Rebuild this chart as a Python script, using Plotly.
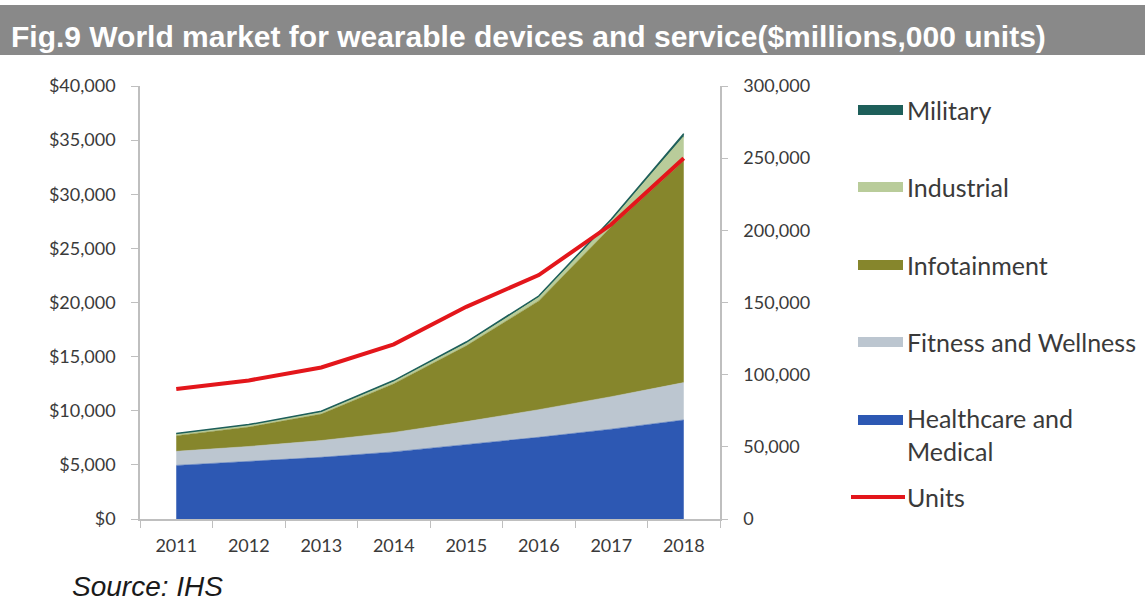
import plotly.graph_objects as go

years = ["2011", "2012", "2013", "2014", "2015", "2016", "2017", "2018"]
healthcare = [4950, 5300, 5700, 6200, 6850, 7550, 8300, 9150]
fitness = [1300, 1400, 1550, 1800, 2150, 2550, 3000, 3450]
infotainment = [1450, 1800, 2450, 4500, 7000, 10050, 15700, 20500]
industrial = [120, 130, 150, 180, 220, 300, 500, 2200]
military = [80, 90, 100, 110, 130, 150, 200, 300]
units = [90000, 96000, 105000, 121000, 147000, 169000, 204000, 250000]

series = [
    ("Healthcare and Medical", healthcare, "#2D58B3"),
    ("Fitness and Wellness", fitness, "#BCC6D0"),
    ("Infotainment", infotainment, "#86862C"),
    ("Industrial", industrial, "#B9CC9A"),
    ("Military", military, "#1E5F5A"),
]
units_color = "#E3161B"

# plot area in pixels
W, H = 1145, 604
L, R, T, B = 140, 720, 86, 519


def px(x):
    return (x - L) / (R - L)


def py(y):
    return (B - y) / (B - T)


fig = go.Figure()
for name, vals, col in series:
    lw = 1.5 if name in ("Military", "Industrial") else 0.5
    fig.add_trace(go.Scatter(
        x=years, y=vals, name=name, mode="lines", stackgroup="one",
        line=dict(color=col, width=lw), fillcolor=col, showlegend=False,
    ))
fig.add_trace(go.Scatter(
    x=years, y=units, name="Units", mode="lines", yaxis="y2",
    line=dict(color=units_color, width=4), showlegend=False,
))

tick_font = dict(family="Lato, Liberation Sans, sans-serif", size=18, color="#3a3a3a")
axis_col = "#BFBFBF"

fig.update_layout(
    width=W, height=H,
    margin=dict(l=L, r=W - R, t=T, b=H - B),
    paper_bgcolor="white", plot_bgcolor="white",
    showlegend=False,
    xaxis=dict(
        type="category", range=[-0.5, 7.5], showgrid=False, zeroline=False,
        showline=True, linecolor=axis_col, linewidth=1.5,
        ticks="outside", ticklen=7, tickcolor=axis_col, tickson="boundaries",
        tickfont=tick_font, ticklabelstandoff=10,
    ),
    yaxis=dict(
        range=[0, 40000], dtick=5000, tickprefix="$", tickformat=",",
        showgrid=False, zeroline=False, showline=True, linecolor=axis_col, linewidth=1.5,
        ticks="outside", ticklen=7, tickcolor=axis_col, tickfont=tick_font,
        ticklabelstandoff=12,
    ),
    yaxis2=dict(
        range=[0, 300000], dtick=50000, tickformat=",", overlaying="y", side="right",
        showgrid=False, zeroline=False, showline=True, linecolor=axis_col, linewidth=1.5,
        ticks="outside", ticklen=6, tickcolor=axis_col, tickfont=tick_font,
        ticklabelstandoff=12,
    ),
)

shapes = []
annotations = []

# Title bar
shapes.append(dict(type="rect", xref="paper", yref="paper",
                   x0=px(0), x1=px(W), y0=py(55), y1=py(5),
                   fillcolor="#898989", line=dict(width=0), layer="below"))
annotations.append(dict(
    xref="paper", yref="paper", x=px(9), y=py(37), xanchor="left", yanchor="middle",
    text="<b>Fig.9 World market for wearable devices and service($millions,000 units)</b>",
    showarrow=False,
    font=dict(family="Liberation Sans, Arial, sans-serif", size=30, color="white"),
))

# Source
annotations.append(dict(
    xref="paper", yref="paper", x=px(71), y=py(586), xanchor="left", yanchor="middle",
    text="<i>Source: IHS</i>", showarrow=False, borderpad=0,
    font=dict(family="Liberation Sans, Arial, sans-serif", size=28, color="#1a1a1a"),
))

# Manual legend
legend_items = [
    ("#1E5F5A", 110, 110, "Military"),
    ("#B9CC9A", 187, 187, "Industrial"),
    ("#86862C", 265, 265, "Infotainment"),
    ("#BCC6D0", 342, 342, "Fitness and Wellness"),
    ("#2D58B3", 420, 434, "Healthcare and<br>Medical"),
]
leg_font = dict(family="Lato, Liberation Sans, sans-serif", size=25, color="#3a3a3a")
for col, yc, ytext, txt in legend_items:
    shapes.append(dict(type="rect", xref="paper", yref="paper",
                       x0=px(858), x1=px(903), y0=py(yc + 5), y1=py(yc - 5),
                       fillcolor=col, line=dict(width=0)))
    annotations.append(dict(xref="paper", yref="paper", x=px(906), y=py(ytext),
                            xanchor="left", yanchor="middle", text=txt, showarrow=False,
                            align="left", borderpad=0, font=leg_font))
shapes.append(dict(type="line", xref="paper", yref="paper",
                   x0=px(851), x1=px(905), y0=py(497), y1=py(497),
                   line=dict(color=units_color, width=4)))
annotations.append(dict(xref="paper", yref="paper", x=px(906), y=py(497),
                        xanchor="left", yanchor="middle", text="Units", showarrow=False,
                        borderpad=0, font=leg_font))

fig.update_layout(shapes=shapes, annotations=annotations)
fig.write_html("out.html")
